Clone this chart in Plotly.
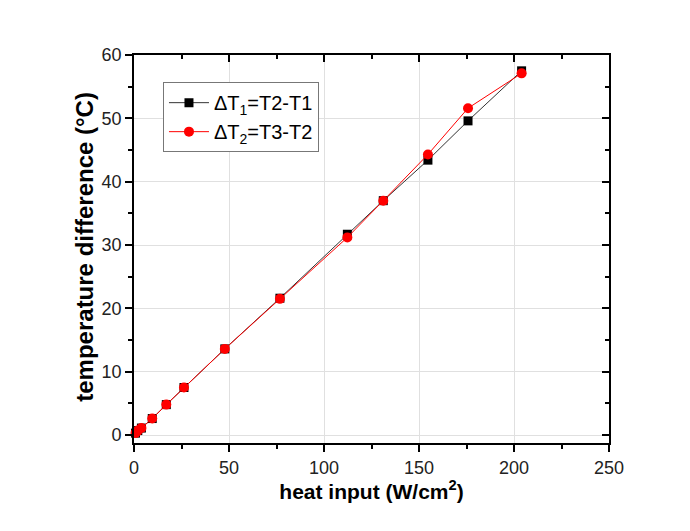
import plotly.graph_objects as go

# heat input (W/cm^2) and measured temperature differences (°C)
heat_input = [0.8, 2.0, 3.9, 9.6, 17.0, 26.3, 47.8, 76.8, 112.3, 131.2, 154.7, 175.8, 204.0]
dT1 = [0.3, 0.7, 1.1, 2.6, 4.8, 7.5, 13.6, 21.6, 31.7, 37.0, 43.4, 49.6, 57.5]
dT2 = [0.3, 0.7, 1.1, 2.6, 4.8, 7.5, 13.6, 21.5, 31.2, 37.0, 44.3, 51.6, 57.1]

x_ticks = [0, 50, 100, 150, 200, 250]
y_ticks = [0, 10, 20, 30, 40, 50, 60]
x_range = [0, 250]
y_range = [-1.26, 60]

fig = go.Figure()
fig.add_trace(go.Scatter(
    x=heat_input, y=dT1, mode="lines+markers",
    name="ΔT<sub>1</sub>=T2-T1",
    line=dict(color="#333333", width=1),
    marker=dict(symbol="square", size=9, color="black"),
    cliponaxis=False,
))
fig.add_trace(go.Scatter(
    x=heat_input, y=dT2, mode="lines+markers",
    name="ΔT<sub>2</sub>=T3-T2",
    line=dict(color="#ff0000", width=1),
    marker=dict(symbol="circle", size=10, color="#ff0000"),
    cliponaxis=False,
))

tick_font = dict(family="Arial, Liberation Sans, sans-serif", size=18, color="#222222")
xtitle_font = dict(family="Arial, Liberation Sans, sans-serif", size=21, color="black")
ytitle_font = dict(family="Arial, Liberation Sans, sans-serif", size=24, color="black")

fig.update_layout(
    width=690, height=531,
    margin=dict(l=134, r=81, t=55, b=88),
    paper_bgcolor="white", plot_bgcolor="white",
    showlegend=True,
    legend=dict(
        x=0.061, y=0.93, xanchor="left", yanchor="top",
        bgcolor="white", bordercolor="#777777", borderwidth=1,
        font=dict(family="Arial, Liberation Sans, sans-serif", size=20, color="black"),
        itemwidth=40, tracegroupgap=2,
    ),
    xaxis=dict(
        range=x_range, tickvals=x_ticks, ticktext=[str(v) for v in x_ticks],
        ticks="outside", ticklen=7, tickwidth=1.5, tickcolor="black",
        minor=dict(ticks="outside", dtick=25, ticklen=4, tickwidth=1.5, tickcolor="black", showgrid=False),
        showline=True, linecolor="black", linewidth=1.8,
        showgrid=True, gridcolor="#e0e0e0", gridwidth=1.2,
        zeroline=False, tickfont=tick_font,
        title=dict(text="<b>heat input (W/cm<sup>2</sup>)</b>", font=xtitle_font, standoff=2),
    ),
    yaxis=dict(
        range=y_range, tickvals=y_ticks, ticktext=[str(v) for v in y_ticks],
        ticks="outside", ticklen=7, tickwidth=1.5, tickcolor="black",
        minor=dict(ticks="outside", dtick=5, ticklen=4, tickwidth=1.5, tickcolor="black", showgrid=False),
        showline=True, linecolor="black", linewidth=1.8,
        showgrid=True, gridcolor="#e0e0e0", gridwidth=1.2,
        zeroline=False, tickfont=tick_font,
    ),
    # mirrored frame: top and right axes with inward ticks, no labels
    xaxis2=dict(
        overlaying="x", side="top", range=x_range, tickvals=x_ticks,
        showticklabels=False, ticks="inside", ticklen=7, tickwidth=1.5, tickcolor="black",
        minor=dict(ticks="inside", dtick=25, ticklen=4, tickwidth=1.5, tickcolor="black"),
        showline=True, linecolor="black", linewidth=1.8, showgrid=False, zeroline=False,
    ),
    yaxis2=dict(
        overlaying="y", side="right", range=y_range, tickvals=y_ticks,
        showticklabels=False, ticks="inside", ticklen=7, tickwidth=1.5, tickcolor="black",
        minor=dict(ticks="inside", dtick=5, ticklen=4, tickwidth=1.5, tickcolor="black"),
        showline=True, linecolor="black", linewidth=1.8, showgrid=False, zeroline=False,
    ),
    annotations=[dict(
        text="<b>temperature difference (°C)</b>", textangle=-90,
        xref="paper", yref="paper", x=-0.103, y=0.506,
        xanchor="center", yanchor="middle", showarrow=False, font=ytitle_font,
    )],
)

# invisible helper trace so the mirrored axes are drawn
fig.add_trace(go.Scatter(x=[None], y=[None], xaxis="x2", yaxis="y2",
                         showlegend=False, hoverinfo="skip"))

fig.write_html("out.html")
